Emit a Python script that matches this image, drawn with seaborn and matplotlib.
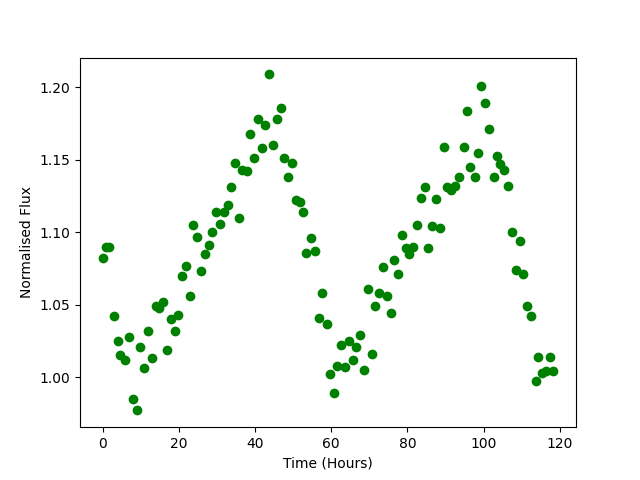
#!/usr/bin/env python3

import pandas as pd
import seaborn as sns
import matplotlib.pyplot as plt

# light curve readings (time in hours, normalised flux)
time = [0.0, 0.9, 1.8, 3.0, 4.0, 4.7, 5.8, 6.9, 8.0, 9.0,
        9.8, 10.8, 11.9, 13.0, 14.0, 14.8, 15.8, 16.9, 17.9, 19.0,
        19.8, 20.8, 21.9, 22.9, 23.7, 24.8, 25.7, 26.8, 27.9, 28.7,
        29.7, 30.8, 31.9, 32.9, 33.7, 34.8, 35.8, 36.7, 37.9, 38.7,
        39.8, 40.8, 41.8, 42.7, 43.7, 44.7, 45.8, 46.8, 47.6, 48.7,
        49.7, 50.7, 51.8, 52.6, 53.5, 54.6, 55.8, 56.8, 57.6, 58.8,
        59.7, 60.8, 61.6, 62.6, 63.7, 64.7, 65.8, 66.6, 67.6, 68.7,
        69.7, 70.8, 71.6, 72.6, 73.7, 74.7, 75.7, 76.5, 77.6, 78.6,
        79.6, 80.5, 81.5, 82.6, 83.5, 84.7, 85.5, 86.4, 87.6, 88.6,
        89.7, 90.4, 91.4, 92.6, 93.6, 94.7, 95.5, 96.5, 97.6, 98.6,
        99.4, 100.4, 101.5, 102.6, 103.6, 104.4, 105.4, 106.5, 107.5, 108.4,
        109.4, 110.4, 111.4, 112.5, 113.6, 114.3, 115.4, 116.4, 117.5, 118.3]

flux = [1.082, 1.090, 1.090, 1.042, 1.025, 1.015, 1.012, 1.028, 0.985, 0.977,
        1.021, 1.006, 1.032, 1.013, 1.049, 1.048, 1.052, 1.019, 1.040, 1.032,
        1.043, 1.070, 1.077, 1.056, 1.105, 1.097, 1.073, 1.085, 1.091, 1.100,
        1.114, 1.106, 1.114, 1.119, 1.131, 1.148, 1.110, 1.143, 1.142, 1.168,
        1.151, 1.178, 1.158, 1.174, 1.209, 1.160, 1.178, 1.186, 1.151, 1.138,
        1.148, 1.122, 1.121, 1.114, 1.086, 1.096, 1.087, 1.041, 1.058, 1.037,
        1.002, 0.989, 1.008, 1.022, 1.007, 1.025, 1.012, 1.021, 1.029, 1.005,
        1.061, 1.016, 1.049, 1.058, 1.076, 1.056, 1.044, 1.081, 1.071, 1.098,
        1.089, 1.085, 1.090, 1.105, 1.124, 1.131, 1.089, 1.104, 1.123, 1.103,
        1.159, 1.131, 1.129, 1.132, 1.138, 1.159, 1.184, 1.145, 1.138, 1.155,
        1.201, 1.189, 1.171, 1.138, 1.153, 1.147, 1.143, 1.132, 1.100, 1.074,
        1.094, 1.071, 1.049, 1.042, 0.997, 1.014, 1.003, 1.004, 1.014, 1.004]

df = pd.DataFrame({'Time (Hours)': time, 'Normalised Flux': flux})

fig, ax = plt.subplots(figsize=(6.4, 4.8), dpi=100)
sns.scatterplot(data=df, x='Time (Hours)', y='Normalised Flux', ax=ax,
                color='green', edgecolor='green', linewidth=1, s=36)

ax.set_xlabel('Time (Hours)')
ax.set_ylabel('Normalised Flux')

plt.savefig('out.png', dpi=100, format='png')
